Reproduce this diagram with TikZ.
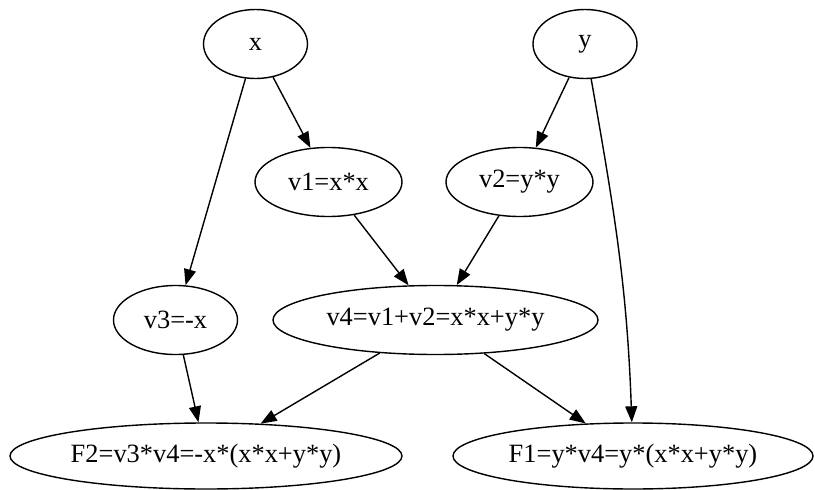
\documentclass[tikz,border=0pt]{standalone}
\usepackage{fontspec}
\setmainfont{Liberation Serif}
\usepackage{tikz}
\usetikzlibrary{arrows.meta,shapes.geometric,positioning}
\definecolor{inkblack}{RGB}{0,0,0}

\begin{document}
\begin{tikzpicture}[x=1pt,y=-1pt,
    var/.style={ellipse,draw=inkblack,line width=1.4pt,inner sep=0pt,
      minimum height=69pt,font=\fontsize{26.4}{30}\selectfont},
    edge/.style={-{Triangle[length=16pt,width=12pt]},line width=1.4pt,color=inkblack}]
  \useasboundingbox (0,0) rectangle (815,490);
  % Inputs
  \node[var,minimum width=104pt] (x) at (255.5,44) {x};
  \node[var,minimum width=104pt] (y) at (585,44) {y};
  % Intermediate values
  \node[var,minimum width=147pt] (v1) at (328.5,182) {v1=x*x};
  \node[var,minimum width=147pt] (v2) at (519.5,182) {v2=y*y};
  \node[var,minimum width=124pt] (v3) at (175.5,320) {v3=-x};
  \node[var,minimum width=325pt] (v4) at (435.5,320) {v4=v1+v2=x*x+y*y};
  % Outputs
  \node[var,minimum width=392pt,minimum height=66pt] (F2) at (206,456) {F2=v3*v4=-x*(x*x+y*y)};
  \node[var,minimum width=360pt,minimum height=66pt] (F1) at (633,456) {F1=y*v4=y*(x*x+y*y)};
  % Edges
  \draw[edge] (x) -- (v1);
  \draw[edge] (x) -- (v3);
  \draw[edge] (y) -- (v2);
  \draw[edge] (y) to[out=-80,in=92] (F1);
  \draw[edge] (v1) -- (v4);
  \draw[edge] (v2) -- (v4);
  \draw[edge] (v3) -- (F2);
  \draw[edge] (v4) -- (F2);
  \draw[edge] (v4) -- (F1);
\end{tikzpicture}
\end{document}
